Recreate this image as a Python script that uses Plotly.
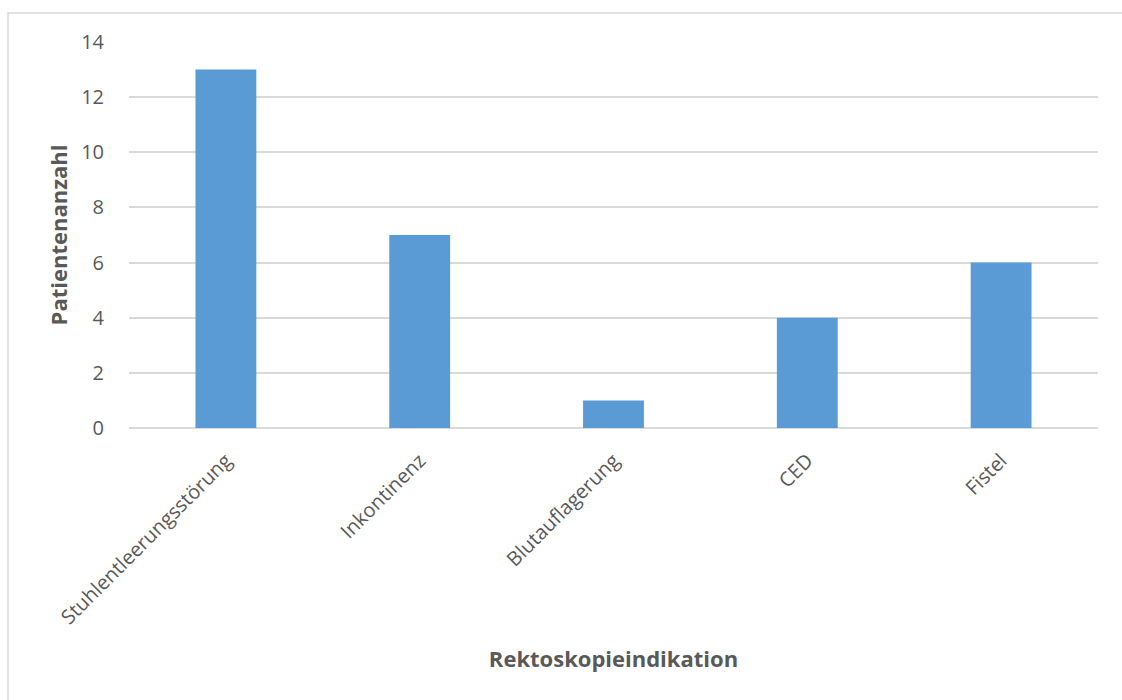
import plotly.graph_objects as go

categories = ["Stuhlentleerungsstörung", "Inkontinenz", "Blutauflagerung", "CED", "Fistel"]
patients = [13, 7, 1, 4, 6]
y_ticks = [0, 2, 4, 6, 8, 10, 12, 14]

W, H = 1122, 700
L, R, T, B = 129, 24, 42, 272
pw, ph = W - L - R, H - T - B

def px_x(x):
    return (x - L) / pw

def px_y(y):
    return (H - B - y) / ph

fig = go.Figure(
    go.Bar(
        x=categories,
        y=patients,
        marker=dict(color="#5B9BD5", line=dict(width=0)),
        hoverinfo="x+y",
    )
)

fig.update_layout(
    width=W,
    height=H,
    margin=dict(l=L, r=R, t=T, b=B),
    paper_bgcolor="white",
    plot_bgcolor="white",
    bargap=0.686,
    showlegend=False,
    font=dict(family="Open Sans, Liberation Sans, sans-serif", color="#595959"),
    xaxis=dict(
        tickangle=-45,
        tickfont=dict(size=20, color="#595959"),
        showgrid=False,
        showline=False,
        ticks="outside",
        ticklen=12,
        tickcolor="rgba(0,0,0,0)",
        title=dict(
            text="<b>Rektoskopieindikation</b>",
            font=dict(size=22, color="#595959"),
            standoff=22,
        ),
    ),
    yaxis=dict(
        range=[0, 14],
        tickvals=y_ticks,
        tickfont=dict(size=20, color="#595959"),
        showgrid=True,
        gridcolor="#D9D9D9",
        gridwidth=1.5,
        zeroline=True,
        zerolinecolor="#D9D9D9",
        zerolinewidth=1.5,
        showline=False,
        ticks="outside",
        ticklen=20,
        tickcolor="rgba(0,0,0,0)",
        title=dict(
            text="<b>Patientenanzahl</b>",
            font=dict(size=22, color="#595959"),
            standoff=7,
        ),
    ),
    shapes=[
        dict(
            type="rect",
            xref="paper",
            yref="paper",
            x0=px_x(8),
            x1=px_x(W + 20),
            y0=px_y(H + 20),
            y1=px_y(13),
            line=dict(color="#D9D9D9", width=1.5),
            fillcolor="rgba(0,0,0,0)",
            layer="below",
        )
    ],
)

fig.write_html("out.html")
